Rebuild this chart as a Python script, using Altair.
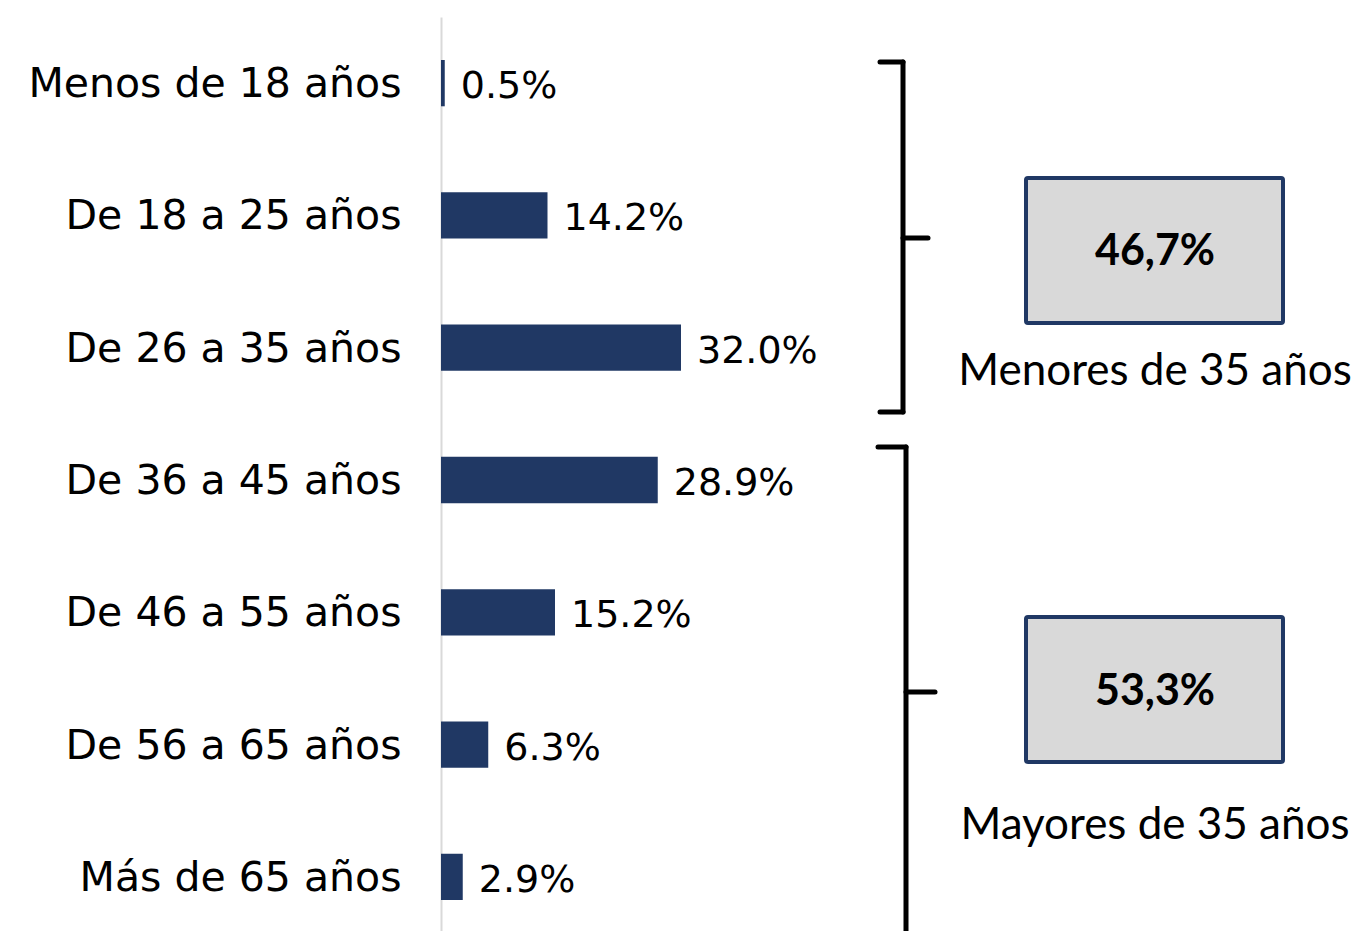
import altair as alt
import pandas as pd

categories = ["Menos de 18 años", "De 18 a 25 años", "De 26 a 35 años",
              "De 36 a 45 años", "De 46 a 55 años", "De 56 a 65 años", "Más de 65 años"]
values = [0.5, 14.2, 32.0, 28.9, 15.2, 6.3, 2.9]
value_labels = ["0.5%", "14.2%", "32.0%", "28.9%", "15.2%", "6.3%", "2.9%"]

group_names = ["Menores de 35 años", "Mayores de 35 años"]
group_totals = ["46,7%", "53,3%"]

NAVY = "#203864"
LABEL_FONT = "DejaVu Sans"
NOTE_FONT = "Lato"

df = pd.DataFrame({"cat": categories, "val": values, "lab": value_labels})

W, H = 915, 914

y_enc = alt.Y("cat:N", sort=categories, title=None,
              scale=alt.Scale(range=[0, 926], paddingInner=0.65, paddingOuter=0.325),
              axis=alt.Axis(ticks=False, tickSize=0, domainColor="#D9D9D9", domainWidth=2,
                            labelFont=LABEL_FONT, labelFontSize=41, labelColor="#000000",
                            labelPadding=40, labelLimit=500, labelOffset=2, grid=False))
x_enc = alt.X("val:Q", scale=alt.Scale(domain=[0, 122], nice=False), axis=None)

bars = alt.Chart(df).mark_bar(color=NAVY).encode(x=x_enc, y=y_enc)
texts = alt.Chart(df).mark_text(align="left", baseline="middle", dx=16, dy=4,
                                font=LABEL_FONT, fontSize=38, color="#000000").encode(
    x=x_enc, y=alt.Y("cat:N", sort=categories), text="lab:N")

layers = [bars, texts]

# brace decorations (pixel layout)
brace_segments = [
    # top brace
    (439, 462, 45, 45), (462, 462, 45, 395), (439, 462, 395, 395), (462, 487, 221, 221),
    # bottom brace
    (437, 465, 430, 430), (465, 465, 430, 921), (437, 465, 921, 921), (465, 494, 675, 675),
]
for x1, x2, y1, y2 in brace_segments:
    layers.append(alt.Chart(df.head(1)).mark_rule(color="#000000", strokeWidth=5, strokeCap="round").encode(
        x=alt.value(x1), x2=alt.value(x2), y=alt.value(y1), y2=alt.value(y2)))

box_y = [(161, 306), (600, 745)]
text_y = [235, 675]
name_y = [355, 809]
for i in range(2):
    layers.append(alt.Chart(df.head(1)).mark_rect(fill="#D9D9D9", stroke=NAVY, strokeWidth=4, cornerRadius=2).encode(
        x=alt.value(585), x2=alt.value(842), y=alt.value(box_y[i][0]), y2=alt.value(box_y[i][1])))
    layers.append(alt.Chart(df.head(1)).mark_text(font=NOTE_FONT, fontSize=43, fontWeight="bold",
                                                  color="#000000", align="center", baseline="middle").encode(
        x=alt.value(714), y=alt.value(text_y[i]), text=alt.value(group_totals[i])))
    layers.append(alt.Chart(df.head(1)).mark_text(font=NOTE_FONT, fontSize=44,
                                                  color="#000000", align="center", baseline="middle").encode(
        x=alt.value(714), y=alt.value(name_y[i]), text=alt.value(group_names[i])))

chart = alt.layer(*layers).properties(
    width=W, height=H,
    background="#ffffff",
    autosize=alt.AutoSizeParams(type="none"),
    padding={"left": 433, "top": 9, "right": 0, "bottom": 0},
).configure_view(stroke=None)

chart.save("out.html", embed_options={"renderer": "svg", "actions": False})
